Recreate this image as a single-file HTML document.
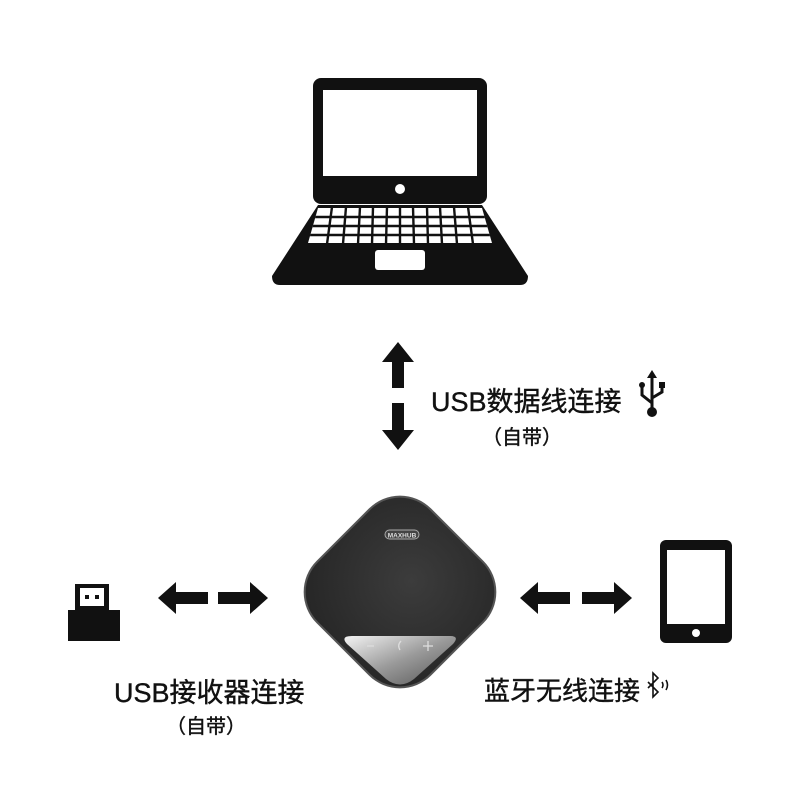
<!DOCTYPE html>
<html><head><meta charset="utf-8"><style>
html,body{margin:0;padding:0;background:#fff;width:800px;height:800px;overflow:hidden}
.t{position:absolute;font-family:"Liberation Sans","Noto Sans CJK SC",sans-serif;color:#111;white-space:nowrap;-webkit-text-stroke:0.4px #111}
</style></head><body>
<svg width="800" height="800" style="position:absolute;left:0;top:0">
<defs>
<linearGradient id="pg" x1="0" y1="0" x2="1" y2="1">
<stop offset="0" stop-color="#f4f4f4"/><stop offset="0.5" stop-color="#9a9a9a"/><stop offset="1" stop-color="#555"/></linearGradient>
<radialGradient id="sg" cx="0.5" cy="0.4" r="0.7"><stop offset="0" stop-color="#3c3c3c"/><stop offset="1" stop-color="#262626"/></radialGradient>
<clipPath id="kb"><path d="M318 208 L482 208 L492 243 L308 243 Z"/></clipPath>
</defs>
<!-- laptop -->
<rect x="313" y="78" width="174" height="126" rx="8" fill="#111"/>
<rect x="323" y="90" width="154" height="86" fill="#fff"/>
<circle cx="400" cy="189" r="5" fill="#fff"/>
<path d="M318 205 L482 205 L528 276 Q528 285 520 285 L280 285 Q272 285 272 276 Z" fill="#111"/>
<g fill="#fff">
<path d="M318 208 L482 208 L492 243 L308 243 Z"/>
<rect x="375" y="250" width="50" height="20" rx="3"/>
</g>
<g stroke="#111" stroke-width="2.4" clip-path="url(#kb)">
<line x1="306" y1="217" x2="494" y2="217"/><line x1="306" y1="226" x2="494" y2="226"/><line x1="306" y1="235" x2="494" y2="235"/>
<line x1="332" y1="207" x2="327" y2="244"/><line x1="346" y1="207" x2="343" y2="244"/><line x1="360" y1="207" x2="358" y2="244"/>
<line x1="373" y1="207" x2="372" y2="244"/><line x1="387" y1="207" x2="386" y2="244"/><line x1="400" y1="207" x2="400" y2="244"/>
<line x1="413" y1="207" x2="414" y2="244"/><line x1="427" y1="207" x2="428" y2="244"/><line x1="440" y1="207" x2="442" y2="244"/>
<line x1="454" y1="207" x2="457" y2="244"/><line x1="468" y1="207" x2="473" y2="244"/>
</g>
<!-- arrows -->
<g fill="#111">
<path d="M398 342 L414 362 L404 362 L404 388 L392 388 L392 362 L382 362 Z"/>
<path d="M398 450 L414 430 L404 430 L404 403 L392 403 L392 430 L382 430 Z"/>
<path d="M158 598 L176 582 L176 592 L208 592 L208 604 L176 604 L176 614 Z"/>
<path d="M268 598 L250 582 L250 592 L218 592 L218 604 L250 604 L250 614 Z"/>
<path d="M520 598 L538 582 L538 592 L570 592 L570 604 L538 604 L538 614 Z"/>
<path d="M632 598 L614 582 L614 592 L582 592 L582 604 L614 604 L614 614 Z"/>
</g>
<!-- usb dongle -->
<rect x="68" y="610" width="52" height="31" fill="#111"/>
<rect x="75" y="584" width="34" height="30" fill="#111"/>
<rect x="80" y="588" width="24" height="18" fill="#fff"/>
<rect x="85" y="595" width="4" height="4" fill="#111"/><rect x="95" y="595" width="4" height="4" fill="#111"/>
<!-- tablet -->
<rect x="660" y="540" width="72" height="103" rx="6" fill="#111"/>
<rect x="667" y="550" width="58" height="74" fill="#fff"/>
<circle cx="696" cy="633" r="4" fill="#fff"/>
<!-- speaker -->
<g transform="translate(400 592) rotate(45)">
<rect x="-81" y="-81" width="162" height="162" rx="44" fill="#555"/>
<rect x="-79" y="-79" width="158" height="158" rx="42" fill="url(#sg)"/>
</g>
<path d="M352 636 L450 636 Q460 636 453 644 L414 679 Q400 690 386 679 L347 644 Q340 636 352 636 Z" fill="url(#pg)"/>
<g stroke="#ddd" stroke-width="1.3" fill="none">
<line x1="367" y1="646" x2="374" y2="646"/>
<line x1="428" y1="641" x2="428" y2="651"/><line x1="423" y1="646" x2="433" y2="646"/>
<path d="M401 641 Q397 645 400 650"/>
</g>
<rect x="385" y="530" width="34" height="9" rx="4.5" fill="#444" stroke="#aaa" stroke-width="1"/>
<text x="402" y="537.5" font-size="6.5" fill="#ddd" text-anchor="middle" font-family="Liberation Sans" font-weight="bold">MAXHUB</text>
<!-- usb symbol -->
<g stroke="#111" stroke-width="3" fill="none">
<line x1="652" y1="378" x2="652" y2="410"/>
<path d="M652 403 L642 395 L642 386"/>
<path d="M652 398 L662 392 L662 386"/>
</g>
<path d="M652 370 L647 378 L657 378 Z" fill="#111"/>
<circle cx="642" cy="385" r="3" fill="#111"/>
<rect x="659" y="382" width="6" height="6" fill="#111"/>
<circle cx="652" cy="412" r="5" fill="#111"/>
<!-- bluetooth -->
<g stroke="#111" stroke-width="1.6" fill="none">
<path d="M648 682 L658 692 L653 697 L653 673 L658 678 L648 688"/>
<path d="M662 682 Q664 685 662 688"/><path d="M666 680 Q669 685 666 690"/>
</g>
</svg>
<div class="t" style="left:431px;top:380px;font-size:27px">USB数据线连接</div>
<div class="t" style="left:482px;top:421px;font-size:20px">（自带）</div>
<div class="t" style="left:114px;top:671px;font-size:27px">USB接收器连接</div>
<div class="t" style="left:166px;top:710px;font-size:20px">（自带）</div>
<div class="t" style="left:484px;top:671px;font-size:26px">蓝牙无线连接</div>
</body></html>
